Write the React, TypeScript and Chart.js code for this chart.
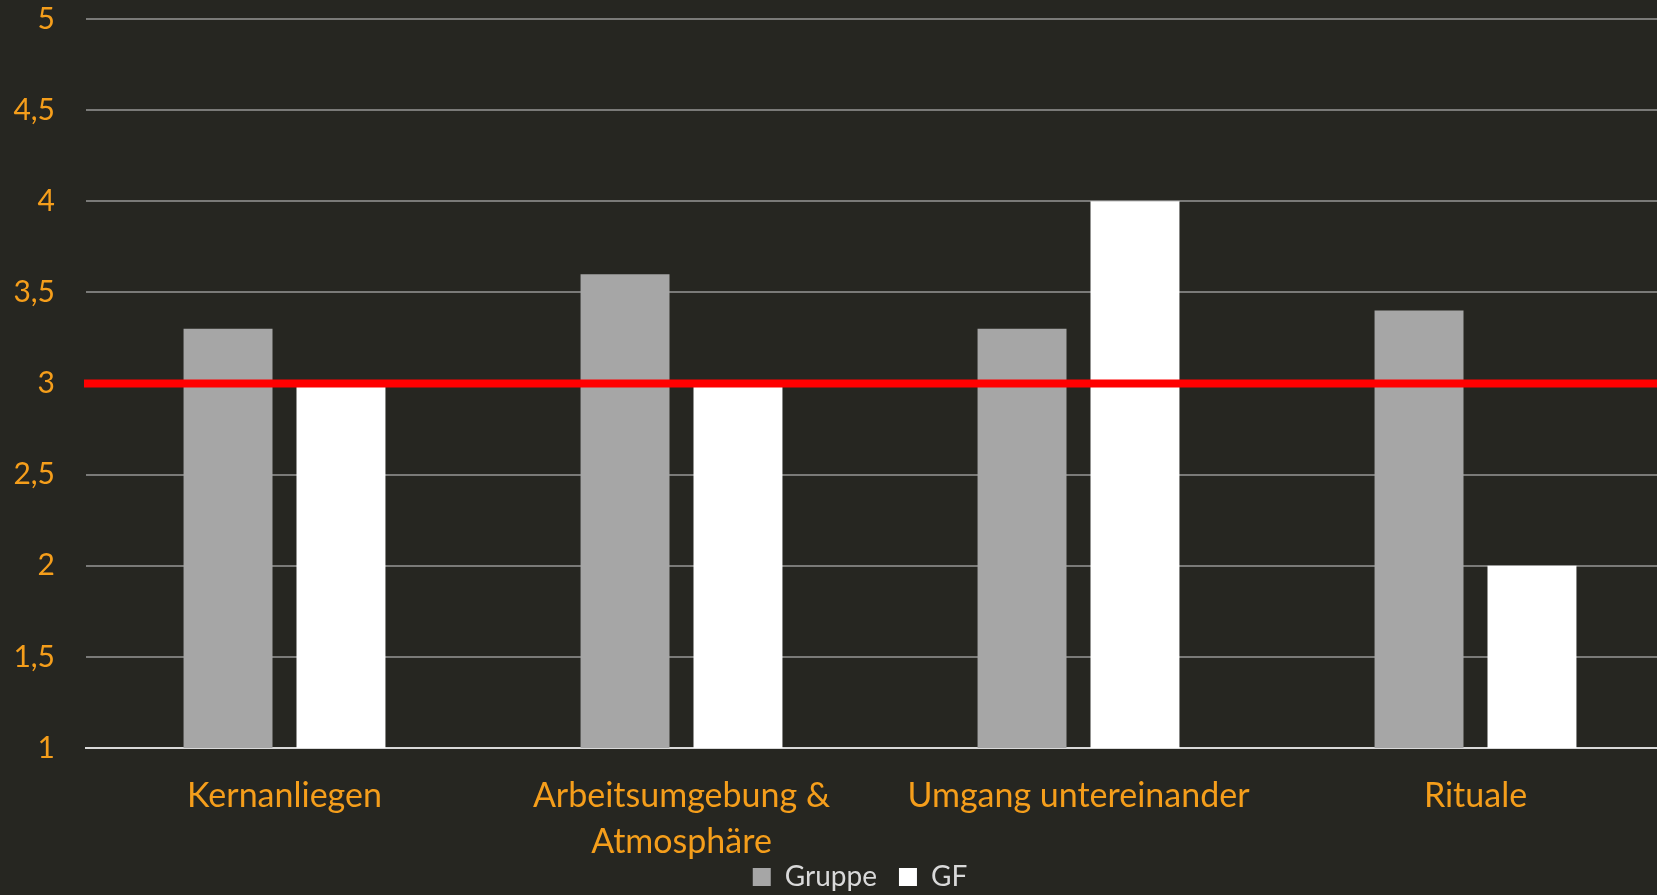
import React, { useEffect, useRef } from "react";
import { Chart, registerables } from "chart.js";

Chart.register(...registerables);

const categories: (string | string[])[] = [
  "Kernanliegen",
  ["Arbeitsumgebung &", "Atmosphäre"],
  "Umgang untereinander",
  "Rituale",
];
const gruppeValues = [3.3, 3.6, 3.3, 3.4];
const gfValues = [3, 3, 4, 2];
const thresholdValue = 3;
const yMin = 1;
const yMax = 5;
const yStep = 0.5;

const BG = "#262621";
const ORANGE = "#F59E1B";
const FONT = "Lato, 'Open Sans', sans-serif";

const thresholdPlugin = {
  id: "thresholdLine",
  afterLayout(chart: any) {
    const lg = chart.legend;
    if (lg) {
      // lift legend so it sits just under the wrapped category labels
      lg.top -= 24;
      lg.height += 24;
      // centre legend on the full (uncropped) chart width
      lg.right += 46;
      lg.width += 46;
    }
  },
  afterDatasetsDraw(chart: any) {
    const { ctx, chartArea, scales } = chart;
    const y = scales.y.getPixelForValue(thresholdValue);
    ctx.save();
    ctx.strokeStyle = "#FF0000";
    ctx.lineWidth = 8;
    ctx.beginPath();
    ctx.moveTo(chartArea.left - 2, y);
    ctx.lineTo(chartArea.right + 60, y);
    ctx.stroke();
    ctx.restore();
  },
};

export default function App() {
  const canvasRef = useRef<HTMLCanvasElement | null>(null);

  useEffect(() => {
    document.body.style.margin = "0";
    document.body.style.background = BG;
    const canvas = canvasRef.current;
    if (!canvas) return;
    const chart = new Chart(canvas, {
      type: "bar",
      data: {
        labels: categories,
        datasets: [
          {
            label: "Gruppe",
            data: gruppeValues,
            backgroundColor: "#A6A6A6",
            borderWidth: 0,
            barPercentage: 0.7876,
            categoryPercentage: 0.569,
          },
          {
            label: "GF",
            data: gfValues,
            backgroundColor: "#FFFFFF",
            borderWidth: 0,
            barPercentage: 0.7876,
            categoryPercentage: 0.569,
          },
        ],
      },
      options: {
        animation: false,
        responsive: false,
        maintainAspectRatio: false,
        devicePixelRatio: 1,
        layout: { padding: { top: 19, right: 46, left: 0, bottom: 0 } },
        plugins: {
          tooltip: { enabled: false },
          legend: {
            position: "bottom",
            maxHeight: 30,
            labels: {
              color: "#D9D9D9",
              font: { family: FONT, size: 28 },
              boxWidth: 18,
              boxHeight: 18,
              padding: 22,
            },
          } as any,
        },
        scales: {
          x: {
            grid: { display: false, drawTicks: false },
            border: { display: true, color: "#D9D9D9", width: 2 },
            ticks: {
              color: ORANGE,
              font: { family: FONT, size: 34, lineHeight: "46px" as any },
              padding: 25,
              maxRotation: 0,
              autoSkip: false,
            },
            afterFit: (s: any) => {
              s.height = 117;
            },
          },
          y: {
            min: yMin,
            max: yMax,
            grid: {
              color: "#7A7A78",
              lineWidth: 2,
              drawTicks: true,
              tickLength: 31,
              tickColor: "rgba(0,0,0,0)",
            },
            border: { display: false },
            ticks: {
              stepSize: yStep,
              color: ORANGE,
              font: { family: FONT, size: 30, lineHeight: 1 },
              padding: 0,
              callback: (v: any) => String(v).replace(".", ","),
            },
            afterFit: (s: any) => {
              s.width = 86;
            },
          },
        },
      },
      plugins: [thresholdPlugin],
    });
    return () => chart.destroy();
  }, []);

  return (
    <div
      style={{
        position: "fixed",
        left: 0,
        top: 0,
        width: 1657,
        height: 895,
        overflow: "hidden",
        background: BG,
      }}
    >
      <canvas ref={canvasRef} width={1720} height={895} style={{ width: 1720, height: 895, display: "block" }} />
    </div>
  );
}
